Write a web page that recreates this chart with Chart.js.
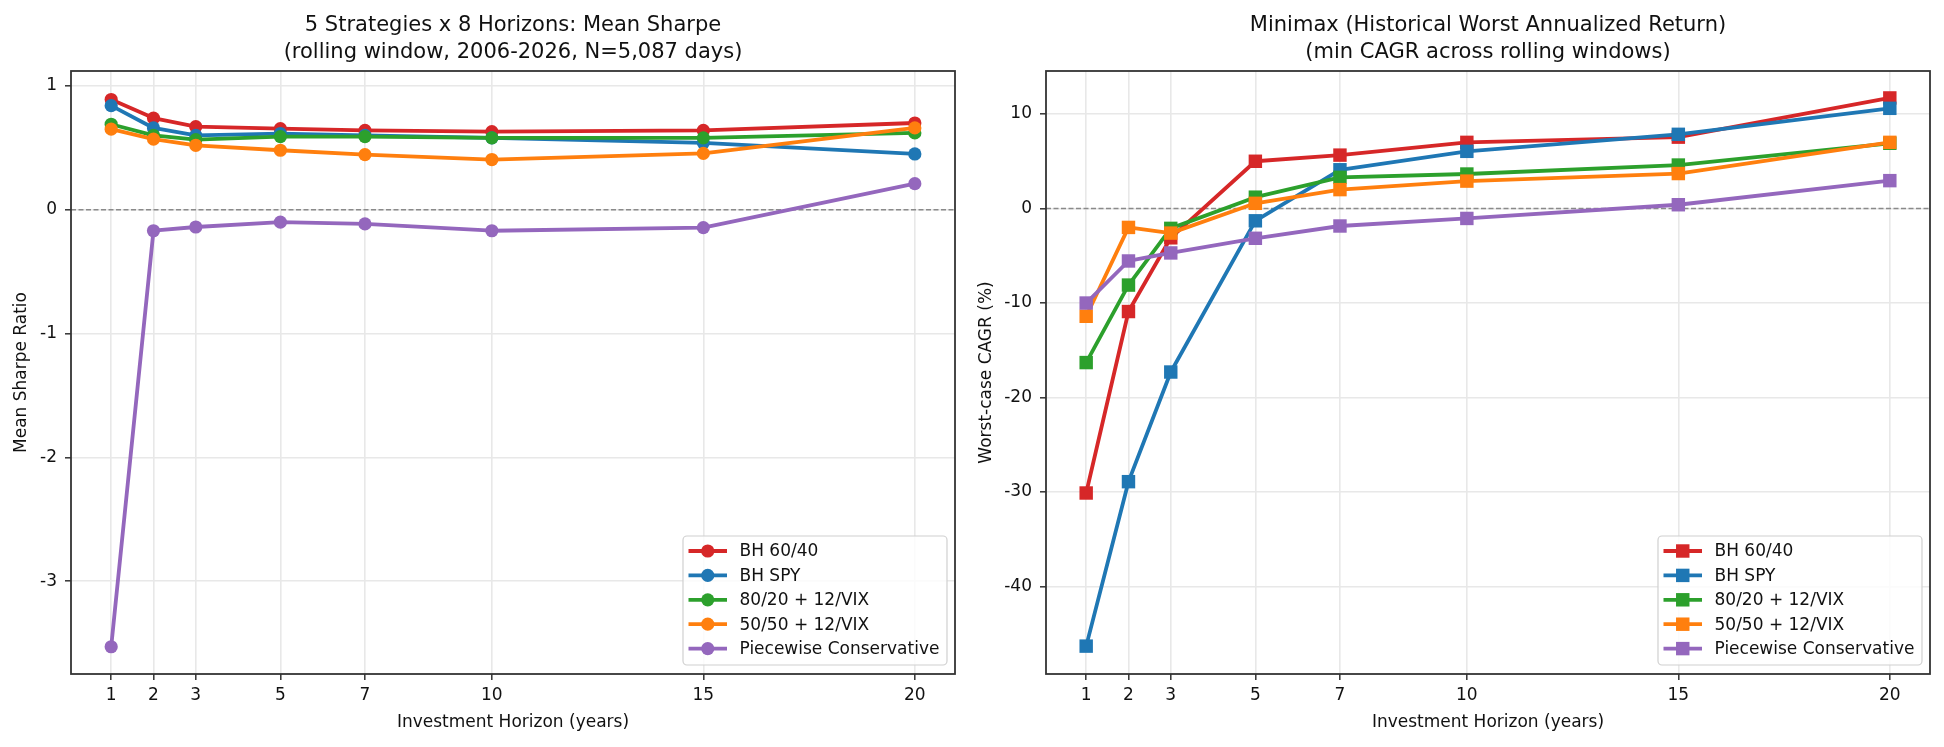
<!DOCTYPE html>
<html lang="en">
<head>
<meta charset="UTF-8">
<title>Sharpe and Minimax by Horizon</title>
<script src="https://cdn.jsdelivr.net/npm/chart.js"></script>
<style>
  html, body { margin: 0; padding: 0; background: #fff; overflow: hidden; }
  #wrap { position: relative; width: 1944px; height: 747px; }
  .panel { position: absolute; top: 0; width: 972px; height: 747px; }
  #left { left: 0; }
  #right { left: 972px; }
</style>
</head>
<body>
<div id="wrap">
  <div class="panel" id="left"><canvas id="sharpeChart" width="972" height="747"></canvas></div>
  <div class="panel" id="right"><canvas id="minimaxChart" width="972" height="747"></canvas></div>
</div>
<script>
const horizons = [1, 2, 3, 5, 7, 10, 15, 20];
const strategies = ['BH 60/40', 'BH SPY', '80/20 + 12/VIX', '50/50 + 12/VIX', 'Piecewise Conservative'];
const colors = ['#d62728', '#1f77b4', '#2ca02c', '#ff7f0e', '#9467bd'];

// mean Sharpe ratio per horizon
const sharpe6040 = [0.89, 0.74, 0.67, 0.655, 0.64, 0.63, 0.64, 0.70];
const sharpeSpy = [0.84, 0.66, 0.60, 0.615, 0.60, 0.58, 0.54, 0.45];
const sharpe8020 = [0.69, 0.60, 0.565, 0.59, 0.59, 0.58, 0.58, 0.62];
const sharpe5050 = [0.65, 0.57, 0.52, 0.48, 0.445, 0.405, 0.455, 0.66];
const sharpePiecewise = [-3.53, -0.17, -0.14, -0.10, -0.115, -0.17, -0.145, 0.21];

// worst annualized return (%) per horizon
const cagr6040 = [-30.1, -10.9, -3.1, 5.0, 5.65, 7.0, 7.55, 11.7];
const cagrSpy = [-46.3, -28.9, -17.3, -1.3, 4.1, 6.05, 7.85, 10.6];
const cagr8020 = [-16.3, -8.1, -2.1, 1.2, 3.3, 3.65, 4.6, 6.9];
const cagr5050 = [-11.4, -2.0, -2.6, 0.55, 2.0, 2.9, 3.7, 7.0];
const cagrPiecewise = [-10.0, -5.55, -4.7, -3.15, -1.85, -1.05, 0.4, 2.95];

const sharpeTicks = [-3, -2, -1, 0, 1];
const cagrTicks = [-40, -30, -20, -10, 0, 10];

const FONT = '"DejaVu Sans", sans-serif';
const TEXT = '#111';

// zero line under the data, frame over it
const framePlugin = {
  id: 'frame',
  beforeDatasetsDraw(chart) {
    const {ctx, chartArea: a, scales: {y}} = chart;
    const y0 = y.getPixelForValue(0);
    ctx.save();
    ctx.strokeStyle = '#8a8a8a';
    ctx.lineWidth = 1.4;
    ctx.setLineDash([5, 2.5]);
    ctx.beginPath();
    ctx.moveTo(a.left, y0);
    ctx.lineTo(a.right, y0);
    ctx.stroke();
    ctx.restore();
  },
  afterDatasetsDraw(chart) {
    const {ctx, chartArea: a} = chart;
    ctx.save();
    ctx.strokeStyle = '#333';
    ctx.lineWidth = 1.8;
    ctx.strokeRect(a.left, a.top, a.right - a.left, a.bottom - a.top);
    ctx.restore();
  }
};

// two-line title centred over the plot area
const titlePlugin = {
  id: 'axesTitle',
  afterDraw(chart, args, opts) {
    const {ctx, chartArea: a} = chart;
    ctx.save();
    ctx.font = '21px ' + FONT;
    ctx.fillStyle = TEXT;
    ctx.textAlign = 'center';
    ctx.textBaseline = 'middle';
    opts.lines.forEach((t, i) => ctx.fillText(t, (a.left + a.right) / 2, 26 + i * 27));
    ctx.restore();
  }
};

// legend box in the lower right corner
const legendPlugin = {
  id: 'boxLegend',
  afterDraw(chart) {
    const {ctx, chartArea: a} = chart;
    const sets = chart.data.datasets;
    const w = 264, h = 129, rowH = 24.4;
    const bx = a.right - 8 - w, by = a.bottom - 9 - h;
    ctx.save();
    ctx.beginPath();
    ctx.roundRect(bx, by, w, h, 4);
    ctx.fillStyle = 'rgba(255,255,255,0.8)';
    ctx.fill();
    ctx.strokeStyle = '#d0d0d0';
    ctx.lineWidth = 1.2;
    ctx.stroke();
    ctx.font = '17px ' + FONT;
    ctx.textBaseline = 'middle';
    sets.forEach((ds, i) => {
      const cy = by + 15 + i * rowH;
      ctx.strokeStyle = ds.borderColor;
      ctx.lineWidth = ds.borderWidth;
      ctx.beginPath();
      ctx.moveTo(bx + 5.5, cy);
      ctx.lineTo(bx + 44, cy);
      ctx.stroke();
      ctx.fillStyle = ds.borderColor;
      const mx = bx + 24.75;
      if (ds.pointStyle === 'rect') {
        const s = ds.pointRadius * Math.SQRT1_2;
        ctx.fillRect(mx - s, cy - s, 2 * s, 2 * s);
      } else {
        ctx.beginPath();
        ctx.arc(mx, cy, ds.pointRadius, 0, Math.PI * 2);
        ctx.fill();
      }
      ctx.fillStyle = TEXT;
      ctx.fillText(ds.label, bx + 56.5, cy + 1);
    });
    ctx.restore();
  }
};

function makeChart(id, cfg) {
  const datasets = cfg.series.map((vals, i) => ({
    label: strategies[i],
    data: horizons.map((h, j) => ({x: h, y: vals[j]})),
    borderColor: colors[i],
    backgroundColor: colors[i],
    borderWidth: 3.8,
    pointStyle: cfg.pointStyle,
    pointRadius: cfg.pointRadius,
    pointBackgroundColor: colors[i],
    pointBorderWidth: 0,
    borderJoinStyle: 'round',
    tension: 0,
    order: strategies.length - i
  }));

  return new Chart(document.getElementById(id), {
    type: 'line',
    data: { datasets },
    plugins: [framePlugin, titlePlugin, legendPlugin],
    options: {
      responsive: false,
      animation: false,
      devicePixelRatio: 1,
      layout: { padding: { left: 0, right: cfg.padRight, top: 71, bottom: 0 } },
      plugins: {
        legend: { display: false },
        title: { display: false },
        tooltip: { enabled: false },
        axesTitle: { lines: cfg.title }
      },
      scales: {
        x: {
          type: 'linear',
          min: 0.05,
          max: 20.95,
          afterBuildTicks: s => { s.ticks = horizons.map(v => ({value: v})); },
          afterFit: s => { s.height = 73; },
          border: { display: false },
          grid: { color: '#e8e8e8', lineWidth: 1.6, tickColor: '#333', tickLength: 6, tickWidth: 1.5 },
          ticks: { font: { family: FONT, size: 17 }, color: TEXT, padding: 5, maxRotation: 0, autoSkip: false },
          title: { display: true, text: 'Investment Horizon (years)', color: TEXT,
                   font: { family: FONT, size: 17 }, padding: { top: 0, bottom: 14 } }
        },
        y: {
          type: 'linear',
          min: cfg.yMin,
          max: cfg.yMax,
          afterBuildTicks: s => { s.ticks = cfg.yTicks.map(v => ({value: v})); },
          afterFit: s => { s.width = cfg.yWidth; },
          border: { display: false },
          grid: { color: '#e8e8e8', lineWidth: 1.6, tickColor: '#333', tickLength: 6, tickWidth: 1.5 },
          ticks: { font: { family: FONT, size: 17 }, color: TEXT, padding: 8 },
          title: { display: true, text: cfg.yLabel, color: TEXT,
                   font: { family: FONT, size: 17 }, padding: { top: cfg.yTitlePad, bottom: 0 } }
        }
      }
    }
  });
}

makeChart('sharpeChart', {
  series: [sharpe6040, sharpeSpy, sharpe8020, sharpe5050, sharpePiecewise],
  pointStyle: 'circle',
  pointRadius: 6.6,
  title: ['5 Strategies x 8 Horizons: Mean Sharpe', '(rolling window, 2006-2026, N=5,087 days)'],
  yLabel: 'Mean Sharpe Ratio',
  yMin: -3.75,
  yMax: 1.12,
  yTicks: sharpeTicks,
  yWidth: 71,
  padRight: 17,
  yTitlePad: 11
});

makeChart('minimaxChart', {
  series: [cagr6040, cagrSpy, cagr8020, cagr5050, cagrPiecewise],
  pointStyle: 'rect',
  pointRadius: 9.5,
  title: ['Minimax (Historical Worst Annualized Return)', '(min CAGR across rolling windows)'],
  yLabel: 'Worst-case CAGR (%)',
  yMin: -49.25,
  yMax: 14.55,
  yTicks: cagrTicks,
  yWidth: 74,
  padRight: 14,
  yTitlePad: 4
});
</script>
</body>
</html>
